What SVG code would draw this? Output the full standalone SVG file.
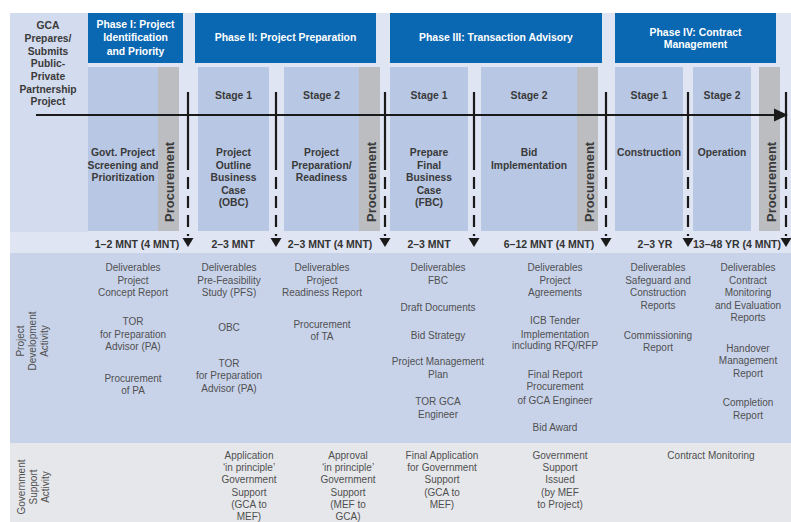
<svg xmlns="http://www.w3.org/2000/svg" width="791" height="522" viewBox="0 0 791 522">
<defs>
<style>
text{font-family:"Liberation Sans",Arial,sans-serif;text-anchor:middle}
.hdr{font-weight:bold;font-size:10.4px;fill:#ffffff}
.lbl{font-weight:bold;font-size:10.3px;fill:#3a3a3a}
.stg{font-weight:bold;font-size:10.4px;fill:#3a3a3a}
.dur{font-weight:bold;font-size:10.5px;fill:#333333}
.proc{font-weight:bold;font-size:13px;fill:#3a3a3a;text-anchor:start}
.del{font-size:10px;fill:#505050}
.side{font-size:10px;fill:#505050}
.phase{fill:#0a67b2}
.stage{fill:#b8c7e4}
.gray{fill:#bcbdc0}
.vl{stroke:#1a1a1a;stroke-width:2.2;fill:none}
.vd{stroke:#1a1a1a;stroke-width:2.2;fill:none;stroke-dasharray:12 7}
.hl{stroke:#1a1a1a;stroke-width:2;fill:none}
</style>
<polygon id="tri" points="-5.5,238 5.5,238 0,247" fill="#1a1a1a"/>
</defs>

<!-- backgrounds -->
<rect x="0" y="0" width="791" height="522" fill="#ffffff"/>
<rect x="10" y="13" width="781" height="240" fill="#dfe5f2"/>
<rect x="10" y="253" width="781" height="190" fill="#c8d3ea"/>
<rect x="10" y="443" width="781" height="79" fill="#e6e7eb"/>

<g id="gca">
<rect x="10" y="13" width="78" height="219" fill="#d3dbee"/>
<text class="lbl" x="48" y="29">GCA</text>
<text class="lbl" x="48" y="42">Prepares/</text>
<text class="lbl" x="48" y="54.5">Submits</text>
<text class="lbl" x="48" y="67">Public-</text>
<text class="lbl" x="48" y="80">Private</text>
<text class="lbl" x="48" y="93">Partnership</text>
<text class="lbl" x="48" y="105">Project</text>
</g>

<g id="phase1">
<rect class="phase" x="88" y="13" width="95" height="50"/>
<text class="hdr" x="135.5" y="28">Phase I: Project</text>
<text class="hdr" x="135.5" y="41">Identification</text>
<text class="hdr" x="135.5" y="54.5">and Priority</text>
</g>
<g id="phase2">
<rect class="phase" x="195" y="13" width="181" height="50"/>
<text class="hdr" x="285.5" y="41">Phase II: Project Preparation</text>
</g>
<g id="phase3">
<rect class="phase" x="390" y="13" width="212" height="50"/>
<text class="hdr" x="496" y="41">Phase III: Transaction Advisory</text>
</g>
<g id="phase4">
<rect class="phase" x="615" y="13" width="161" height="50"/>
<text class="hdr" x="695.5" y="35.5">Phase IV: Contract</text>
<text class="hdr" x="695.5" y="47.5">Management</text>
</g>

<g id="p1-screening">
<rect class="stage" x="88" y="67" width="70" height="164"/>
<text class="lbl" x="123" y="156">Govt. Project</text>
<text class="lbl" x="123" y="168.5">Screening and</text>
<text class="lbl" x="123" y="181">Prioritization</text>
</g>
<g id="p1-procurement">
<rect class="gray" x="158" y="67" width="21" height="164"/>
<text class="proc" transform="translate(174 222) rotate(-90)">Procurement</text>
</g>

<g id="p2-stage1">
<rect class="stage" x="198" y="67" width="71" height="164"/>
<text class="stg" x="233.5" y="99">Stage 1</text>
<text class="lbl" x="233.5" y="156">Project</text>
<text class="lbl" x="233.5" y="168.5">Outline</text>
<text class="lbl" x="233.5" y="181">Business</text>
<text class="lbl" x="233.5" y="193.5">Case</text>
<text class="lbl" x="233.5" y="206">(OBC)</text>
</g>
<g id="p2-stage2">
<rect class="stage" x="284" y="67" width="75" height="164"/>
<text class="stg" x="321.5" y="99">Stage 2</text>
<text class="lbl" x="321.5" y="156">Project</text>
<text class="lbl" x="321.5" y="168.5">Preparation/</text>
<text class="lbl" x="321.5" y="181">Readiness</text>
</g>
<g id="p2-procurement">
<rect class="gray" x="359" y="67" width="21" height="164"/>
<text class="proc" transform="translate(375.5 222) rotate(-90)">Procurement</text>
</g>

<g id="p3-stage1">
<rect class="stage" x="390" y="67" width="78" height="164"/>
<text class="stg" x="429" y="99">Stage 1</text>
<text class="lbl" x="429" y="156">Prepare</text>
<text class="lbl" x="429" y="168.5">Final</text>
<text class="lbl" x="429" y="181">Business</text>
<text class="lbl" x="429" y="193.5">Case</text>
<text class="lbl" x="429" y="206">(FBC)</text>
</g>
<g id="p3-stage2">
<rect class="stage" x="481" y="67" width="96" height="164"/>
<text class="stg" x="529" y="99">Stage 2</text>
<text class="lbl" x="529" y="156">Bid</text>
<text class="lbl" x="529" y="168.5">Implementation</text>
</g>
<g id="p3-procurement">
<rect class="gray" x="577" y="67" width="21" height="164"/>
<text class="proc" transform="translate(593.5 222) rotate(-90)">Procurement</text>
</g>

<g id="p4-stage1">
<rect class="stage" x="615" y="67" width="68" height="164"/>
<text class="stg" x="649" y="99">Stage 1</text>
<text class="lbl" x="649" y="156">Construction</text>
</g>
<g id="p4-stage2">
<rect class="stage" x="693" y="67" width="58" height="164"/>
<text class="stg" x="722" y="99">Stage 2</text>
<text class="lbl" x="722" y="156">Operation</text>
</g>
<g id="p4-procurement">
<rect class="gray" x="759" y="67" width="21" height="164"/>
<text class="proc" transform="translate(775.5 222) rotate(-90)">Procurement</text>
</g>

<g id="connectors">
<line class="hl" x1="36" y1="115" x2="776" y2="115"/>
<polygon points="774,108.5 788,115 774,121.5" fill="#1a1a1a"/>
<line class="vl" x1="188" y1="92" x2="188" y2="170"/>
<line class="vd" x1="188" y1="177" x2="188" y2="236"/>
<use href="#tri" x="188"/>
<line class="vl" x1="276" y1="92" x2="276" y2="170"/>
<line class="vd" x1="276" y1="177" x2="276" y2="236"/>
<use href="#tri" x="276"/>
<line class="vl" x1="385" y1="92" x2="385" y2="170"/>
<line class="vd" x1="385" y1="177" x2="385" y2="236"/>
<use href="#tri" x="385"/>
<line class="vl" x1="474" y1="92" x2="474" y2="170"/>
<line class="vd" x1="474" y1="177" x2="474" y2="236"/>
<use href="#tri" x="474"/>
<line class="vl" x1="606" y1="92" x2="606" y2="170"/>
<line class="vd" x1="606" y1="177" x2="606" y2="236"/>
<use href="#tri" x="606"/>
<line class="vl" x1="688" y1="92" x2="688" y2="170"/>
<line class="vd" x1="688" y1="177" x2="688" y2="236"/>
<use href="#tri" x="688"/>
<line class="vl" x1="786" y1="92" x2="786" y2="170"/>
<line class="vd" x1="786" y1="177" x2="786" y2="236"/>
<use href="#tri" x="786"/>
</g>

<g id="durations">
<text class="dur" x="137" y="248">1–2 MNT (4 MNT)</text>
<text class="dur" x="233" y="248">2–3 MNT</text>
<text class="dur" x="330" y="248">2–3 MNT (4 MNT)</text>
<text class="dur" x="429" y="248">2–3 MNT</text>
<text class="dur" x="549" y="248">6–12 MNT (4 MNT)</text>
<text class="dur" x="655" y="248">2–3 YR</text>
<text class="dur" x="737" y="248">13–48 YR (4 MNT)</text>
</g>

<g id="project-development-activity">
<text class="side" transform="translate(24 341) rotate(-90)">Project</text>
<text class="side" transform="translate(36 341) rotate(-90)">Development</text>
<text class="side" transform="translate(47.5 341) rotate(-90)">Activity</text>
</g>

<g id="deliverables-p1">
<text class="del" x="133" y="271">Deliverables</text>
<text class="del" x="133" y="283.5">Project</text>
<text class="del" x="133" y="296">Concept Report</text>
<text class="del" x="133" y="324.5">TOR</text>
<text class="del" x="133" y="337.5">for Preparation</text>
<text class="del" x="133" y="350">Advisor (PA)</text>
<text class="del" x="133" y="381.5">Procurement</text>
<text class="del" x="133" y="394">of PA</text>
</g>
<g id="deliverables-p2s1">
<text class="del" x="229" y="271">Deliverables</text>
<text class="del" x="229" y="283.5">Pre-Feasibility</text>
<text class="del" x="229" y="296">Study (PFS)</text>
<text class="del" x="229" y="331">OBC</text>
<text class="del" x="229" y="366.5">TOR</text>
<text class="del" x="229" y="379">for Preparation</text>
<text class="del" x="229" y="391.5">Advisor (PA)</text>
</g>
<g id="deliverables-p2s2">
<text class="del" x="322" y="271">Deliverables</text>
<text class="del" x="322" y="283.5">Project</text>
<text class="del" x="322" y="296">Readiness Report</text>
<text class="del" x="322" y="327.5">Procurement</text>
<text class="del" x="322" y="340">of TA</text>
</g>
<g id="deliverables-p3s1">
<text class="del" x="438" y="271">Deliverables</text>
<text class="del" x="438" y="283.5">FBC</text>
<text class="del" x="438" y="311">Draft Documents</text>
<text class="del" x="438" y="338.5">Bid Strategy</text>
<text class="del" x="438" y="365">Project Management</text>
<text class="del" x="438" y="377.5">Plan</text>
<text class="del" x="438" y="405">TOR GCA</text>
<text class="del" x="438" y="417.5">Engineer</text>
</g>
<g id="deliverables-p3s2">
<text class="del" x="555" y="271">Deliverables</text>
<text class="del" x="555" y="283.5">Project</text>
<text class="del" x="555" y="296">Agreements</text>
<text class="del" x="555" y="323.5">ICB Tender</text>
<text class="del" x="555" y="337.5">Implementation</text>
<text class="del" x="555" y="349">including RFQ/RFP</text>
<text class="del" x="555" y="377.5">Final Report</text>
<text class="del" x="555" y="390">Procurement</text>
<text class="del" x="555" y="403.5">of GCA Engineer</text>
<text class="del" x="555" y="431">Bid Award</text>
</g>
<g id="deliverables-p4s1">
<text class="del" x="658" y="271">Deliverables</text>
<text class="del" x="658" y="283.5">Safeguard and</text>
<text class="del" x="658" y="296">Construction</text>
<text class="del" x="658" y="309">Reports</text>
<text class="del" x="658" y="338.5">Commissioning</text>
<text class="del" x="658" y="350.5">Report</text>
</g>
<g id="deliverables-p4s2">
<text class="del" x="748" y="271">Deliverables</text>
<text class="del" x="748" y="283.5">Contract</text>
<text class="del" x="748" y="296">Monitoring</text>
<text class="del" x="748" y="308.5">and Evaluation</text>
<text class="del" x="748" y="321">Reports</text>
<text class="del" x="748" y="351.5">Handover</text>
<text class="del" x="748" y="364">Management</text>
<text class="del" x="748" y="376.5">Report</text>
<text class="del" x="748" y="406">Completion</text>
<text class="del" x="748" y="419">Report</text>
</g>

<g id="government-support-activity">
<text class="side" transform="translate(25 487) rotate(-90)">Government</text>
<text class="side" transform="translate(37 487) rotate(-90)">Support</text>
<text class="side" transform="translate(48.5 487) rotate(-90)">Activity</text>
</g>
<g id="support-p2s1">
<text class="del" x="249" y="458.5">Application</text>
<text class="del" x="249" y="471">‘in principle’</text>
<text class="del" x="249" y="483">Government</text>
<text class="del" x="249" y="495.5">Support</text>
<text class="del" x="249" y="507.5">(GCA to</text>
<text class="del" x="249" y="519.5">MEF)</text>
</g>
<g id="support-p2s2">
<text class="del" x="348" y="458.5">Approval</text>
<text class="del" x="348" y="471">‘in principle’</text>
<text class="del" x="348" y="483">Government</text>
<text class="del" x="348" y="495.5">Support</text>
<text class="del" x="348" y="507.5">(MEF to</text>
<text class="del" x="348" y="519.5">GCA)</text>
</g>
<g id="support-p3s1">
<text class="del" x="442" y="458.5">Final Application</text>
<text class="del" x="442" y="471">for Government</text>
<text class="del" x="442" y="483">Support</text>
<text class="del" x="442" y="495.5">(GCA to</text>
<text class="del" x="442" y="507.5">MEF)</text>
</g>
<g id="support-p3s2">
<text class="del" x="560" y="458.5">Government</text>
<text class="del" x="560" y="471">Support</text>
<text class="del" x="560" y="483">Issued</text>
<text class="del" x="560" y="495.5">(by MEF</text>
<text class="del" x="560" y="507.5">to Project)</text>
</g>
<g id="support-p4">
<text class="del" x="711" y="458.5">Contract Monitoring</text>
</g>
</svg>
